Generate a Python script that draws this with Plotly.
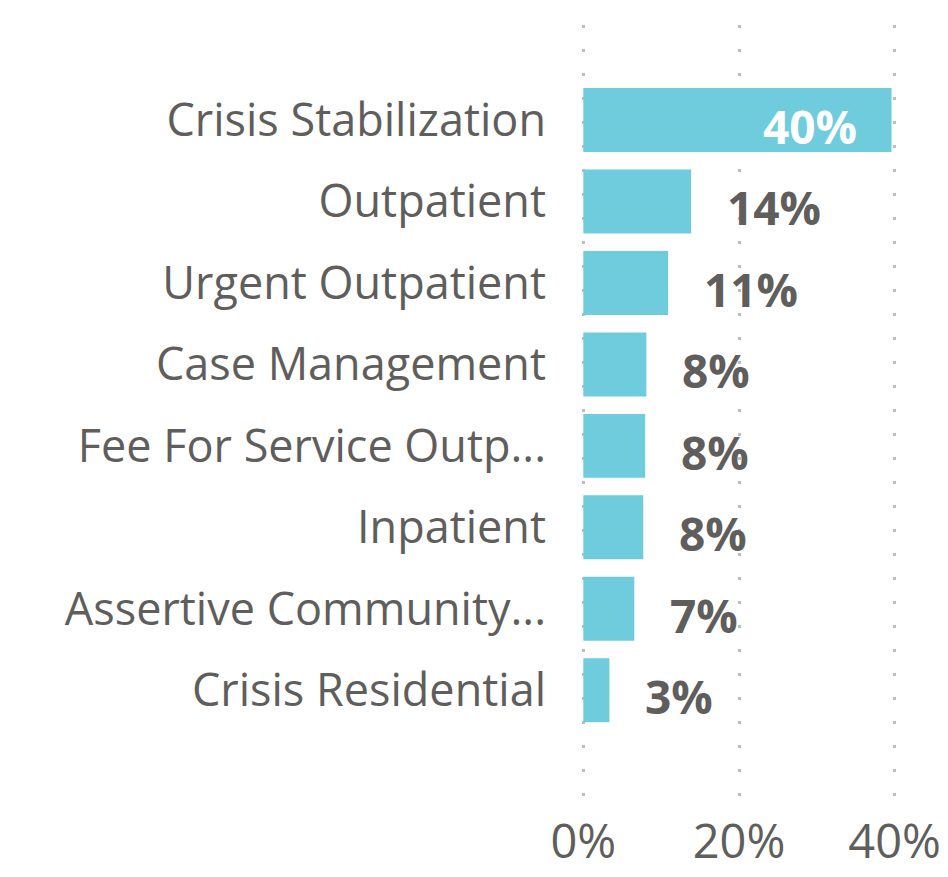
import plotly.graph_objects as go

categories = ["Crisis Stabilization", "Outpatient", "Urgent Outpatient", "Case Management",
              "Fee For Service Outp...", "Inpatient", "Assertive Community...", "Crisis Residential"]
values = [39.6, 13.85, 10.9, 8.1, 7.95, 7.7, 6.55, 3.35]
x_ticks = [0, 20, 40]
x_tick_labels = ["0%", "20%", "40%"]

BAR = "#6FCCDD"
TXT = "#605E5C"
FONT = "Open Sans"

fig = go.Figure(go.Bar(
    x=values, y=categories, orientation="h",
    marker=dict(color=BAR, line=dict(width=0)),
    hoverinfo="skip",
))

for cat, v in zip(categories, values):
    inside = v > 30
    fig.add_annotation(
        x=v, y=cat, xref="x", yref="y",
        text=f"<b>{round(v)}%</b>",
        showarrow=False,
        xanchor="right" if inside else "left",
        xshift=-33 if inside else 34,
        yshift=-6,
        font=dict(family=FONT, size=46, color="#FFFFFF" if inside else TXT),
    )

fig.update_layout(
    width=948, height=877,
    margin=dict(l=581, r=51, t=25, b=80, autoexpand=False),
    paper_bgcolor="white", plot_bgcolor="white",
    bargap=0.215,
    showlegend=False,
    font=dict(family=FONT, color=TXT),
    xaxis=dict(
        range=[-0.3, 40.3], tickvals=x_ticks, ticktext=x_tick_labels,
        showgrid=True, gridcolor="#BEBEBE", gridwidth=3, griddash="3px,21px",
        zeroline=False, showline=False, ticks="", automargin=False,
        tickfont=dict(family=FONT, size=47, color=TXT),
        ticklabelstandoff=13,
    ),
    yaxis=dict(
        type="category", categoryorder="array", categoryarray=categories,
        range=[8.31, -1.166],
        showgrid=False, zeroline=False, showline=False, ticks="", automargin=False,
        tickfont=dict(family=FONT, size=45, color=TXT),
        ticklabelstandoff=34,
    ),
)

fig.write_html("out.html", config={"displayModeBar": False},
               post_script="document.body.style.margin='0';")
